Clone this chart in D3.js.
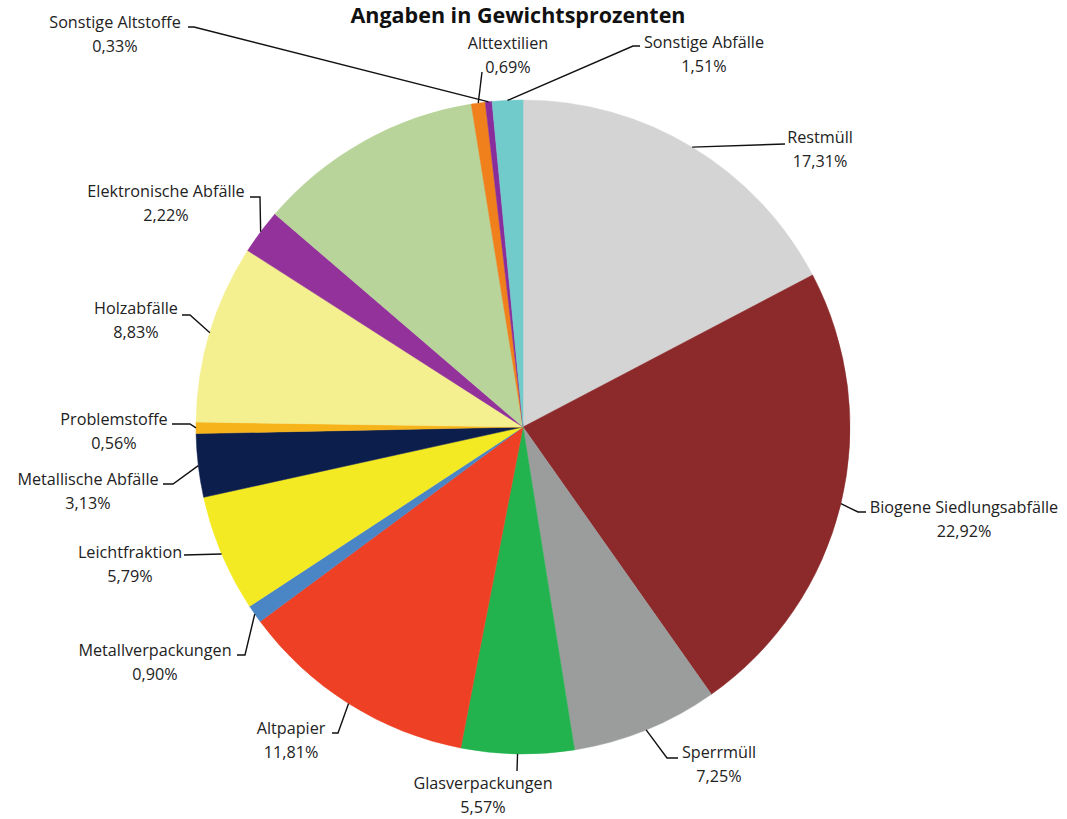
<!DOCTYPE html>
<html lang="de">
<head>
<meta charset="utf-8">
<script src="https://d3js.org/d3.v7.min.js"></script>
<style>
  body { margin: 0; background: #fff; }
  svg text { font-family: "Open Sans", sans-serif; fill: #222; }
  .titel { font-weight: bold; font-size: 21.5px; fill: #111; }
  .lbl { font-size: 16.2px; }
  .leader { fill: none; stroke: #111; stroke-width: 1.4; }
</style>
</head>
<body>
<div id="chart"></div>
<script>
"use strict"
// Daten (Gewichtsprozent), im Uhrzeigersinn ab 12 Uhr
var kategorien = ["Restmüll", "Biogene Siedlungsabfälle", "Sperrmüll", "Glasverpackungen",
  "Altpapier", "Metallverpackungen", "Leichtfraktion", "Metallische Abfälle", "Problemstoffe",
  "Holzabfälle", "Elektronische Abfälle", "", "Alttextilien", "Sonstige Altstoffe", "Sonstige Abfälle"];
var werte = [17.31, 22.92, 7.25, 5.57, 11.81, 0.90, 5.79, 3.13, 0.56, 8.83, 2.22, 11.18, 0.69, 0.33, 1.51];
var farben = ["#d4d4d4", "#8c2a2b", "#9b9d9d", "#22b24e", "#ee4024", "#4a86c6", "#f4ea24", "#0c1f4c",
  "#f7b41a", "#f4ef8f", "#93329b", "#b8d49a", "#ef801c", "#8a2d9c", "#72cbcb"];

// Beschriftungen: Textmitte, Knickpunkte der Führungslinie (Layout)
var labelLayout = [
  {x: 820, y: 137, pts: [[785, 144]]},
  {x: 964, y: 507, pts: [[866, 512], [858, 512]]},
  {x: 719, y: 752, pts: [[678, 758], [667, 758]]},
  {x: 483, y: 783, pts: [[517, 771]]},
  {x: 291, y: 728, pts: [[332, 733], [338, 733]]},
  {x: 155, y: 650, pts: [[237, 655], [245, 655]]},
  {x: 130, y: 552, pts: [[184, 555]]},
  {x: 88,  y: 479, pts: [[163, 484], [173, 484]]},
  {x: 114, y: 419, pts: [[172, 424], [190, 424]]},
  {x: 136, y: 308, pts: [[182, 315], [190, 315]]},
  {x: 166, y: 191, pts: [[250, 197], [260, 197]]},
  null,
  {x: 508, y: 43,  pts: [[482, 72]]},
  {x: 115, y: 22,  pts: [[188, 27], [194, 27]]},
  {x: 704, y: 42,  pts: [[640, 46], [633, 46]]}
];

var breite = 1067, hoehe = 819;
var cx = 523, cy = 427, radius = 327;

var deDE = d3.formatLocale({decimal: ",", thousands: ".", grouping: [3], currency: ["", " €"]});
var fmt = deDE.format(".2f");

var daten = kategorien.map((k, i) => ({name: k, wert: werte[i], farbe: farben[i], lab: labelLayout[i]}));

var svg = d3.select("#chart").append("svg")
  .attr("width", breite)
  .attr("height", hoehe);

svg.append("text")
  .attr("class", "titel")
  .attr("x", 518)
  .attr("y", 23)
  .attr("text-anchor", "middle")
  .text("Angaben in Gewichtsprozenten");

var pie = d3.pie().sort(null).value(d => d.wert);
var arc = d3.arc().innerRadius(0).outerRadius(radius);
var rand = d3.arc().innerRadius(radius).outerRadius(radius);

var g = svg.append("g").attr("transform", "translate(" + cx + "," + cy + ")");
var boegen = pie(daten);

g.selectAll("path.slice")
  .data(boegen)
  .enter()
  .append("path")
    .attr("class", "slice")
    .attr("d", arc)
    .attr("fill", d => d.data.farbe)
    .attr("stroke", d => d.data.farbe)
    .attr("stroke-width", 0.5);

// Führungslinien
var linie = d3.line();
var beschriftet = boegen.filter(d => d.data.lab);

svg.selectAll("path.leader")
  .data(beschriftet)
  .enter()
  .append("path")
    .attr("class", "leader")
    .attr("d", d => {
      var c = rand.centroid(d);
      var pts = d.data.lab.pts.concat([[cx + c[0], cy + c[1]]]);
      return linie(pts);
    });

// Texte
var tg = svg.selectAll("g.label")
  .data(beschriftet)
  .enter()
  .append("g")
    .attr("class", "label");

tg.append("text")
  .attr("class", "lbl")
  .attr("x", d => d.data.lab.x)
  .attr("y", d => d.data.lab.y)
  .attr("text-anchor", "middle")
  .attr("dominant-baseline", "central")
  .text(d => d.data.name);

tg.append("text")
  .attr("class", "lbl")
  .attr("x", d => d.data.lab.x)
  .attr("y", d => d.data.lab.y + 24)
  .attr("text-anchor", "middle")
  .attr("dominant-baseline", "central")
  .text(d => fmt(d.data.wert) + "%");
</script>
</body>
</html>
